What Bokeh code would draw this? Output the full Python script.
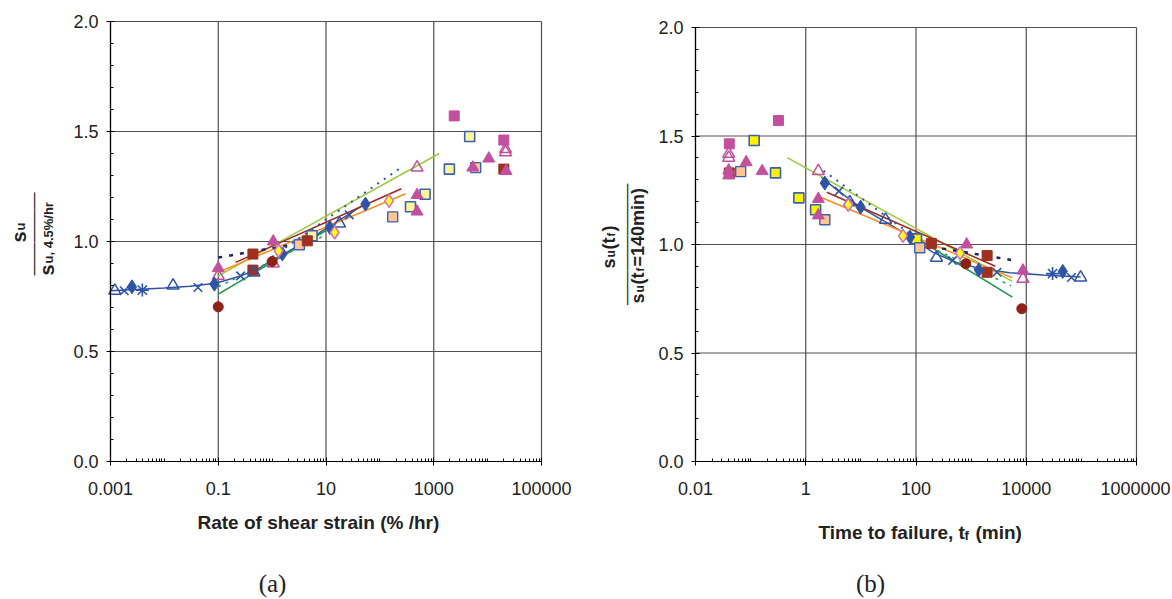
import math
from bokeh.plotting import figure
from bokeh.models import (FixedTicker, CustomJSTickFormatter, Label, Range1d,
                          LogAxis, LinearAxis, LogScale)
from bokeh.layouts import row
from bokeh.embed import file_html
from bokeh.resources import INLINE

# ---------------- (a) rate of shear strain (%/hr) ----------------
a_blue_tri_x = [0.0012, 0.0145, 0.46, 17.8]
a_blue_tri_y = [0.776, 0.800, 0.859, 1.082]
a_blue_x_x = [0.0018, 0.042, 0.26, 27]
a_blue_x_y = [0.776, 0.791, 0.844, 1.121]
a_blue_ast_x = [0.0039]
a_blue_ast_y = [0.779]
a_blue_dia_x = [0.0025, 0.085, 1.55, 11.8, 54]
a_blue_dia_y = [0.794, 0.806, 0.943, 1.064, 1.170]
a_circ_x = [0.1, 1.0]
a_circ_y = [0.703, 0.909]
a_bsq_x = [0.44, 0.44, 4.5, 20000]
a_bsq_y = [0.943, 0.870, 1.003, 1.329]
a_mtri_x = [0.1, 1.05, 490, 490, 5300, 10500, 22000]
a_mtri_y = [0.879, 1.000, 1.211, 1.136, 1.336, 1.377, 1.320]
a_motri_x = [0.1, 1.05, 490, 21500, 21500]
a_motri_y = [0.844, 0.900, 1.336, 1.420, 1.405]
a_msq_x = [2400, 20000]
a_msq_y = [1.571, 1.461]
a_ysq_x = [5.5, 370, 690, 1950, 4650]
a_ysq_y = [1.026, 1.158, 1.215, 1.329, 1.477]
a_psq_x = [3.2, 173, 6000]
a_psq_y = [0.985, 1.112, 1.336]
a_ydia_x = [1.32, 14.5, 148]
a_ydia_y = [0.958, 1.041, 1.185]

a_curve_x = [0.001, 0.003, 0.01, 0.03, 0.09, 0.25, 0.5, 1, 2, 5, 10, 25, 60]
a_curve_y = [0.776, 0.782, 0.789, 0.797, 0.810, 0.842, 0.870, 0.915, 0.955, 1.010, 1.060, 1.120, 1.180]
a_lgreen_x = [0.1, 1260];  a_lgreen_y = [0.844, 1.400]
a_orange_x = [0.1, 300];   a_orange_y = [0.860, 1.217]
a_dred_x = [0.21, 250];    a_dred_y = [0.905, 1.240]
a_dgreen_x = [0.1, 10];    a_dgreen_y = [0.761, 1.050]
a_gdash_x = [0.1, 10];     a_gdash_y = [0.794, 1.030]
a_navy_x = [0.1, 3];       a_navy_y = [0.927, 0.990]
a_bdot_x = [1.0, 275];     a_bdot_y = [0.930, 1.344]

# ---------------- (b) time to failure (min) ----------------
b_blue_tri_x = [6.3, 28, 235, 97000]
b_blue_tri_y = [1.195, 1.114, 0.939, 0.848]
b_blue_x_x = [4.0, 460, 2950, 66000]
b_blue_x_y = [1.246, 0.926, 0.872, 0.848]
b_blue_ast_x = [30000]
b_blue_ast_y = [0.866]
b_blue_dia_x = [2.22, 9.9, 78, 1380, 46000]
b_blue_dia_y = [1.283, 1.172, 1.034, 0.883, 0.876]
b_circ_x = [800, 8300]
b_circ_y = [0.911, 0.704]
b_bsq_x = [0.041, 190, 1950, 1950]
b_bsq_y = [1.330, 1.005, 0.949, 0.872]
b_mtri_x = [0.040, 0.040, 0.083, 0.162, 1.69, 1.69, 830, 8700]
b_mtri_y = [1.341, 1.318, 1.379, 1.338, 1.210, 1.134, 1.000, 0.880]
b_motri_x = [0.040, 0.040, 1.69, 8700]
b_motri_y = [1.418, 1.400, 1.338, 0.842]
b_msq_x = [0.32, 0.041]
b_msq_y = [1.571, 1.464]
b_ysq_x = [0.116, 0.283, 0.75, 1.51, 102]
b_ysq_y = [1.479, 1.330, 1.215, 1.160, 1.026]
b_psq_x = [0.066, 2.22, 117]
b_psq_y = [1.336, 1.114, 0.985]
b_ydia_x = [5.9, 58, 630]
b_ydia_y = [1.183, 1.040, 0.960]

b_curve_x = [1.9, 4, 10, 30, 80, 200, 500, 1500, 5000, 20000, 97000]
b_curve_y = [1.310, 1.245, 1.170, 1.100, 1.035, 0.965, 0.920, 0.888, 0.870, 0.860, 0.850]
b_lgreen_x = [0.46, 5600]; b_lgreen_y = [1.400, 0.830]
b_orange_x = [1.86, 5600]; b_orange_y = [1.218, 0.846]
b_dred_x = [2.4, 2750];    b_dred_y = [1.241, 0.900]
b_dgreen_x = [100, 5600];  b_dgreen_y = [1.030, 0.757]
b_gdash_x = [100, 5300];   b_gdash_y = [1.020, 0.810]
b_navy_x = [190, 5300];    b_navy_y = [0.990, 0.929]
b_bdot_x = [2.1, 100];     b_bdot_y = [1.340, 1.030]

a_majors = [1e-3, 1e-1, 1e1, 1e3, 1e5]
b_majors = [1e-2, 1e0, 1e2, 1e4, 1e6]
y_majors = [0.0, 0.5, 1.0, 1.5, 2.0]

BLUE = "#2F54A6"
CIRC = "#8E2216"
BSQ = "#9E301F"
MAG = "#C2509E"
YEL_A = "#FFF59A"
YEL_B = "#FFF200"
PEACH = "#FFC595"
EDGE = "#3A62B2"
DIA_FILL = "#FFFF1A"
DIA_EDGE = "#D46CC4"
LGREEN = "#9BCB3C"
ORANGE = "#FF8A1F"
DRED = "#A3261D"
DGREEN = "#17944A"
GDASH = "#2E9D5A"
NAVY = "#1C2466"
GRID = "#505050"
TXT = "#222222"
FONT = "Liberation Sans"
H = 598
DY = 5   # vertical correction for horizontal labels
DX = 5   # horizontal correction for rotated labels


def minor_log(lo, hi, majors):
    out = []
    for k in range(lo, hi):
        for m in range(1, 10):
            v = float(f"{m}e{k}")
            if v not in majors:
                out.append(v)
    return out


def make_fig(width, fx0, fx1, fy_top, fy_bot, majors, lo, hi):
    """Frame covers the whole canvas; the data box sits at page px fx0..fx1, fy_top..fy_bot."""
    ppd = (fx1 - fx0) / (hi - lo)          # pixels per decade
    xs = 10 ** (lo - fx0 / ppd)
    xe = 10 ** (lo + (width - fx0) / ppd)
    ppu = (fy_bot - fy_top) / 2.0          # pixels per unit of y
    ys = -(H - fy_bot) / ppu
    ye = fy_bot / ppu
    p = figure(width=width, height=H, x_axis_type=None, y_axis_type=None,
               x_range=Range1d(xs, xe), y_range=Range1d(ys, ye),
               output_backend="svg", toolbar_location=None, title=None,
               min_border=0)
    p.x_scale = LogScale()
    p.background_fill_color = "white"
    p.border_fill_color = "white"
    p.outline_line_color = None
    p.grid.visible = False

    xmin, xmax = majors[0], majors[-1]
    p.segment(x0=majors, y0=[0.0] * len(majors), x1=majors, y1=[2.0] * len(majors),
              line_color=GRID, line_width=1.2)
    p.segment(x0=[xmin] * len(y_majors), y0=y_majors, x1=[xmax] * len(y_majors), y1=y_majors,
              line_color=GRID, line_width=1.2)

    xax = LogAxis(fixed_location=0.0, bounds=(xmin, xmax),
                  ticker=FixedTicker(ticks=majors, minor_ticks=minor_log(lo, hi, majors)),
                  formatter=CustomJSTickFormatter(code="return tick.toString();"))
    yax = LinearAxis(fixed_location=xmin, bounds=(0, 2),
                     ticker=FixedTicker(ticks=y_majors,
                                        minor_ticks=[i / 10 for i in range(21) if i % 5]),
                     formatter=CustomJSTickFormatter(code="return tick.toFixed(1);"))
    for ax in (xax, yax):
        ax.axis_line_color = "black"
        ax.axis_line_width = 1.2
        ax.major_tick_line_color = "black"
        ax.minor_tick_line_color = "black"
        ax.major_tick_in = 4
        ax.major_tick_out = 4
        ax.minor_tick_in = 3
        ax.minor_tick_out = 0
        ax.major_label_text_font = FONT
        ax.major_label_text_font_size = "18px"
        ax.major_label_text_color = TXT
    xax.major_label_standoff = 16
    yax.major_label_standoff = 8
    p.add_layout(xax, "below")
    p.add_layout(yax, "left")
    return p


def plab(p, fig_left, px, py, text, size, angle=0.0, align="left",
         baseline="alphabetic", style="bold", font=FONT):
    if angle == 0.0:
        py = py - DY
    elif baseline == "alphabetic":
        px = px - DX
    p.add_layout(Label(x=px - fig_left, y=H - py, x_units="screen", y_units="screen",
                       text=text, text_font_size=f"{size}px", angle=angle,
                       text_align=align, text_baseline=baseline,
                       text_font_style=style, text_font=font, text_color=TXT))


def draw(p, d, yel):
    p.line(d["curve_x"], d["curve_y"], line_color=BLUE, line_width=1.5)
    p.line(d["lgreen_x"], d["lgreen_y"], line_color=LGREEN, line_width=1.5)
    p.line(d["orange_x"], d["orange_y"], line_color=ORANGE, line_width=1.5)
    p.line(d["dred_x"], d["dred_y"], line_color=DRED, line_width=1.5)
    p.line(d["dgreen_x"], d["dgreen_y"], line_color=DGREEN, line_width=1.5)
    p.line(d["gdash_x"], d["gdash_y"], line_color=GDASH, line_width=1.5, line_dash="3 5")
    p.line(d["navy_x"], d["navy_y"], line_color=NAVY, line_width=2.5, line_dash="4 7")
    p.line(d["bdot_x"], d["bdot_y"], line_color=BLUE, line_width=2, line_dash="2 6")

    p.scatter(d["ysq_x"], d["ysq_y"], marker="square", size=10, fill_color=yel,
              line_color=EDGE, line_width=1.6)
    p.scatter(d["psq_x"], d["psq_y"], marker="square", size=10, fill_color=PEACH,
              line_color=EDGE, line_width=1.4)
    p.scatter(d["msq_x"], d["msq_y"], marker="square", size=10, fill_color=MAG,
              line_color=MAG)
    p.scatter(d["bsq_x"], d["bsq_y"], marker="square", size=10, fill_color=BSQ,
              line_color=BSQ)
    p.scatter(d["mtri_x"], d["mtri_y"], marker="triangle", size=12, fill_color=MAG,
              line_color=MAG)
    p.scatter(d["motri_x"], d["motri_y"], marker="triangle", size=12, fill_color=None,
              line_color=MAG, line_width=1.5)
    p.scatter(d["circ_x"], d["circ_y"], marker="circle", size=10, fill_color=CIRC,
              line_color=CIRC)
    p.scatter(d["blue_tri_x"], d["blue_tri_y"], marker="triangle", size=12,
              fill_color=None, line_color=BLUE, line_width=1.5)
    p.scatter(d["blue_x_x"], d["blue_x_y"], marker="x", size=12,
              line_color=BLUE, line_width=1.6)
    p.scatter(d["blue_ast_x"], d["blue_ast_y"], marker="asterisk", size=13,
              line_color=BLUE, line_width=1.6)
    p.scatter(d["blue_dia_x"], d["blue_dia_y"], marker="diamond", size=14,
              fill_color=BLUE, line_color=BLUE)
    p.scatter(d["ydia_x"], d["ydia_y"], marker="diamond", size=13,
              fill_color=DIA_FILL, line_color=DIA_EDGE, line_width=1.5)


def pack(prefix):
    g = globals()
    keys = ["blue_tri", "blue_x", "blue_ast", "blue_dia", "circ", "bsq", "mtri", "motri",
            "msq", "ysq", "psq", "ydia", "curve", "lgreen", "orange", "dred", "dgreen",
            "gdash", "navy", "bdot"]
    d = {}
    for k in keys:
        d[k + "_x"] = g[f"{prefix}_{k}_x"]
        d[k + "_y"] = g[f"{prefix}_{k}_y"]
    return d


R90 = math.pi / 2

# left panel: canvas page x 0..584, data box page x 110..541, y 21..461
WA = 584
pa = make_fig(WA, 110, 541, 21, 461, a_majors, -3, 5)
draw(pa, pack("a"), YEL_A)
L0 = 0
plab(pa, L0, 23, 242, "s", 20, R90)
plab(pa, L0, 25, 230, "u", 13, R90)
plab(pa, L0, 33, 233.5, "\u2014" * 5, 16.6, R90, align="center", baseline="middle", style="normal")
plab(pa, L0, 51, 275, "s", 20, R90)
plab(pa, L0, 53, 263, "u, 4.5%/hr", 13, R90)
plab(pa, L0, 197, 527, "Rate of shear strain (% /hr)", 19)
plab(pa, L0, 272, 588, "(a)", 25, style="normal", align="center", font="Liberation Serif")

# right panel: canvas page x 584..1170, data box page x 695..1136, y 27..461
WB = 586
R0 = WA
pb = make_fig(WB, 695 - R0, 1136 - R0, 27, 461, b_majors, -2, 6)
draw(pb, pack("b"), YEL_B)
plab(pb, R0, 613, 268, "s", 18, R90)
plab(pb, R0, 615, 257, "u", 12, R90)
plab(pb, R0, 613, 249, "(t", 18, R90)
plab(pb, R0, 615, 236, "f", 11, R90)
plab(pb, R0, 613, 231, ")", 18, R90)
plab(pb, R0, 625, 244, "\u2014" * 7, 17.4, R90, align="center", baseline="middle", style="normal")
plab(pb, R0, 642, 303, "s", 18, R90)
plab(pb, R0, 644, 292, "u", 12, R90)
plab(pb, R0, 642, 284, "(t", 18, R90)
plab(pb, R0, 644, 271, "f", 11, R90)
plab(pb, R0, 642, 266, "=140min)", 18, R90)
plab(pb, R0, 818, 537, "Time to failure, t", 19)
plab(pb, R0, 964, 540, "f", 13)
plab(pb, R0, 975, 537, "(min)", 19)
plab(pb, R0, 870, 588, "(b)", 25, style="normal", align="center", font="Liberation Serif")

layout = row(pa, pb)
open("out.html", "w").write(file_html(layout, INLINE))
